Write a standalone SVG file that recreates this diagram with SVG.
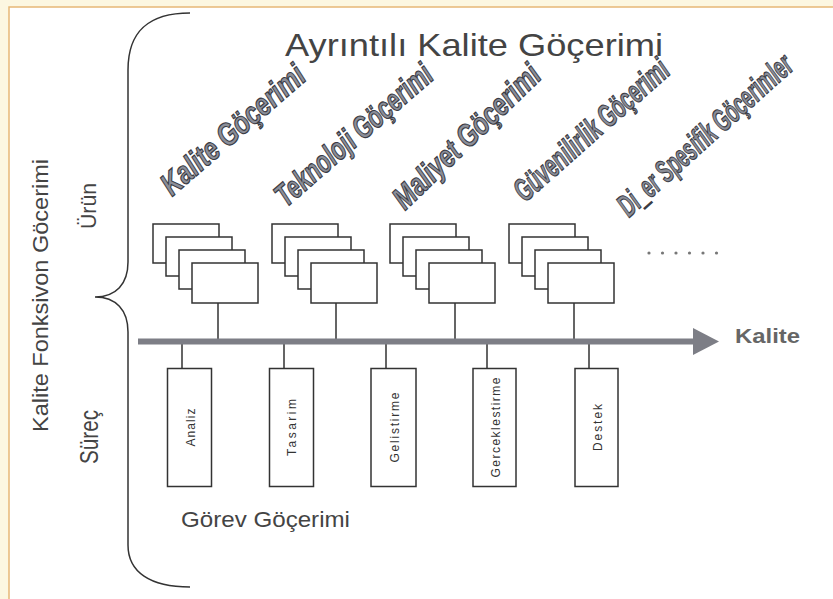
<svg xmlns="http://www.w3.org/2000/svg" width="833" height="599" viewBox="0 0 833 599">
<style>
.box{fill:#fff;stroke:#333;stroke-width:1.5}
.ln{stroke:#333;stroke-width:1.5;fill:none}
.t{font-family:"Liberation Sans",Arial,sans-serif;fill:#444}
.task{font-family:"Liberation Sans",Arial,sans-serif;font-size:12px;fill:#333;text-anchor:middle}
.wa{font-family:"Liberation Sans",Arial,sans-serif;font-weight:bold;font-style:italic;font-size:32px;fill:#8b8e98;stroke:#3a3b44;stroke-width:1.2}
</style>
<defs>
<g id="stack">
<rect class="box" x="0" y="0" width="66" height="39"/>
<rect class="box" x="13" y="13" width="66" height="39"/>
<rect class="box" x="26" y="26" width="66" height="39"/>
<rect class="box" x="39" y="39" width="66" height="40"/>
</g>
</defs>
<rect x="0" y="0" width="833" height="599" fill="#fcf7e1"/>
<rect x="9" y="7" width="824" height="592" fill="#fff"/>
<path d="M9,599 V7 H833" stroke="#e6b877" stroke-width="1.5" fill="none"/>

<g id="title"><text class="t" x="285" y="56" font-size="32" textLength="378" lengthAdjust="spacingAndGlyphs">Ayrıntılı Kalite Göçerimi</text></g>

<g id="brace"><path class="ln" stroke="#222" d="M190,13 C150,13 128,30 128,70 L128,262 C128,284 116,297 95,297 C116,297 128,310 128,332 L128,545 C128,572 150,587 190,587"/></g>

<g id="left-labels">
<text class="t" font-size="22" transform="translate(48,432) rotate(-90)" textLength="273" lengthAdjust="spacingAndGlyphs">Kalite Fonksivon Göcerimi</text>
<text class="t" font-size="22" transform="translate(96,229) rotate(-90)" textLength="46" lengthAdjust="spacingAndGlyphs">Ürün</text>
<text class="t" font-size="25" transform="translate(98,464) rotate(-90)" textLength="54" lengthAdjust="spacingAndGlyphs">Süreç</text>
</g>

<g id="wordart">
<text class="wa" transform="translate(172,197) rotate(-41)" textLength="180" lengthAdjust="spacingAndGlyphs">Kalite Göçerimi</text>
<text class="wa" transform="translate(286,208) rotate(-41)" textLength="198" lengthAdjust="spacingAndGlyphs">Teknoloji Göçerimi</text>
<text class="wa" transform="translate(405,211) rotate(-44)" textLength="192" lengthAdjust="spacingAndGlyphs">Maliyet Göçerimi</text>
<text class="wa" transform="translate(525,203) rotate(-41.5)" textLength="196" lengthAdjust="spacingAndGlyphs">Güvenilirlik Göçerimi</text>
<text class="wa" transform="translate(629,218) rotate(-42)" textLength="224" lengthAdjust="spacingAndGlyphs">Di_er Spesifik Göçerimler</text>
</g>

<g id="product-1"><use href="#stack" x="153" y="224"/></g>
<g id="product-2"><use href="#stack" x="272" y="224"/></g>
<g id="product-3"><use href="#stack" x="390" y="224"/></g>
<g id="product-4"><use href="#stack" x="509" y="224"/></g>

<g id="dots" fill="#777">
<circle cx="649" cy="253" r="1.6"/><circle cx="662.5" cy="253" r="1.6"/><circle cx="676" cy="253" r="1.6"/><circle cx="689.5" cy="253" r="1.6"/><circle cx="703" cy="253" r="1.6"/><circle cx="716.5" cy="253" r="1.6"/>
</g>

<g id="connectors">
<path class="ln" d="M218,303 V339 M336,303 V339 M455,303 V339 M574,303 V339"/>
<path class="ln" d="M182,344 V368 M284,344 V368 M386,344 V368 M487,344 V368 M589,344 V368"/>
</g>

<g id="axis">
<rect x="138" y="338.5" width="556" height="6" fill="#7d7e86"/>
<polygon points="693,328 719,341.5 693,355" fill="#7d7e86"/>
<text x="735" y="343" font-family="Liberation Sans,Arial,sans-serif" font-weight="bold" font-size="20" fill="#666" textLength="65" lengthAdjust="spacingAndGlyphs">Kalite</text>
</g>

<g id="task-analiz"><rect class="box" x="167.5" y="368.5" width="44" height="118"/><text class="task" transform="translate(195,427.5) rotate(-90)" textLength="38" lengthAdjust="spacing">Analiz</text></g>
<g id="task-tasarim"><rect class="box" x="269.5" y="368.5" width="44" height="118"/><text class="task" transform="translate(296,427.5) rotate(-90)" textLength="57" lengthAdjust="spacing">Tasarim</text></g>
<g id="task-gelistirme"><rect class="box" x="371" y="368.5" width="45" height="118"/><text class="task" transform="translate(399,427.5) rotate(-90)" textLength="70" lengthAdjust="spacing">Gelistirme</text></g>
<g id="task-gerceklestirme"><rect class="box" x="473" y="368.5" width="43" height="118"/><text class="task" transform="translate(500,427.5) rotate(-90)" textLength="100" lengthAdjust="spacing">Gerceklestirme</text></g>
<g id="task-destek"><rect class="box" x="575" y="368.5" width="43" height="118"/><text class="task" transform="translate(602,427.5) rotate(-90)" textLength="47" lengthAdjust="spacing">Destek</text></g>

<g id="gorev"><text class="t" x="181" y="527" font-size="22" textLength="169" lengthAdjust="spacingAndGlyphs">Görev Göçerimi</text></g>
</svg>
